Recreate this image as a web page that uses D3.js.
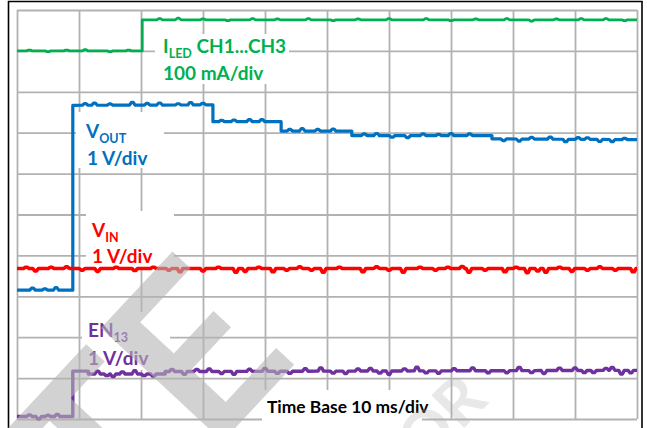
<!DOCTYPE html>
<html>
<head>
<meta charset="utf-8">
<script src="https://cdn.jsdelivr.net/npm/d3@7"></script>
<style>
  html, body { margin: 0; padding: 0; background: #fff; }
  svg { display: block; }
  text { font-family: Lato, "Open Sans", sans-serif; font-weight: 700; }
</style>
</head>
<body>
<svg id="scope" width="647" height="428"></svg>
<script>
// Time axis in ms (10 ms/div), vertical axis in screen divisions from the bottom.
const timeTicks = [0, 10, 20, 30, 40, 50, 60, 70, 80, 90, 100];
const divTicks = [0, 1, 2, 3, 4, 5, 6, 7, 8, 9, 10];

// Trace levels as [time ms, divisions]; repeated times are vertical edges.
const iledPoints = [[0, 9.00], [20.2, 9.00], [20.2, 9.76], [100, 9.76]];
const voutPoints = [[0, 3.15], [9.0, 3.15], [9.0, 7.67], [31.6, 7.68], [31.6, 7.27],
                    [42.6, 7.27], [42.6, 7.04], [54.0, 7.04], [54.0, 6.93],
                    [76.6, 6.93], [76.6, 6.85], [100, 6.83]];
const vinPoints = [[0, 3.68], [100, 3.68]];
const enPoints = [[0, 0.06], [9.0, 0.06], [9.0, 1.17], [11.5, 1.17], [11.5, 1.10],
                  [23.9, 1.10], [23.9, 1.16], [100, 1.19]];

// Visible ripple on each trace as [time ms, offset in divisions].
const iledGlitches = [[2, 0.02], [5, -0.02], [8, 0.02], [11, 0.03], [15, -0.02], [18, 0.02],
                      [23, 0.03], [26, 0.04], [30, 0.02], [34, -0.02], [38, 0.03], [42, 0.02],
                      [47, 0.03], [51, -0.02], [55, 0.02], [60, 0.03], [66, 0.03], [70, -0.02],
                      [74, 0.02], [79, 0.03], [83, -0.03], [87, 0.02], [91, 0.03], [95, 0.03], [98, -0.02]];
const voutGlitches = [[2.5, 0.05], [4.5, 0.03], [6.3, 0.06], [11, 0.04], [12.5, 0.05], [15, 0.03],
                      [18.6, 0.07], [21, 0.04], [23, 0.05], [26, 0.03], [28, 0.06], [30, 0.04],
                      [33, 0.03], [35, 0.04], [37.5, 0.05], [39.5, 0.05], [44, 0.04], [46, 0.06],
                      [48.5, 0.04], [51, 0.05], [56, 0.04], [58, 0.05], [60.5, -0.04], [63, -0.05],
                      [65.5, 0.04], [68, 0.03], [70, 0.05], [73, 0.04], [78.5, -0.04], [81, -0.05],
                      [83, 0.04], [86, 0.05], [88.5, -0.06], [90.5, 0.04], [92, 0.04], [94, -0.05],
                      [96, -0.05], [98, 0.03]];
const vinGlitches = [[1.5, 0.03], [3, -0.06], [5.5, 0.03], [8, 0.04], [10.5, -0.04], [13, -0.07],
                     [16, 0.03], [19, -0.05], [22, 0.03], [24.5, -0.04], [26.3, -0.08], [30, -0.06],
                     [32.5, 0.03], [35.3, -0.09], [36.8, -0.07], [39, 0.03], [41.3, -0.08],
                     [43.5, -0.04], [45.6, 0.04], [47.5, -0.04], [49.4, -0.09], [52, 0.03],
                     [55.8, -0.08], [58, 0.04], [60, -0.04], [62.3, -0.09], [65, 0.03], [67.5, -0.04],
                     [69.5, 0.03], [71.8, 0.05], [72.9, -0.09], [75.5, -0.04], [78.7, -0.08],
                     [80.5, 0.03], [82.3, -0.1], [84, -0.06], [85.3, -0.09], [87.5, 0.03],
                     [89.5, -0.07], [92, -0.04], [94, 0.04], [96.5, -0.04], [99.4, -0.08]];
const enGlitches = [[2, 0.04], [3.5, -0.06], [5, 0.03], [6.5, 0.05], [13, 0.07], [14.5, -0.04],
                    [15.5, -0.06], [17, 0.05], [19, 0.08], [20.5, -0.04], [22, -0.05], [25, 0.05],
                    [27, -0.07], [29, 0.05], [31, 0.06], [33, -0.05], [35, -0.07], [37.5, 0.05],
                    [40, 0.07], [42, -0.05], [44, -0.05], [46.5, 0.06], [49, 0.08], [51, -0.05],
                    [53, -0.06], [55, 0.05], [57, 0.06], [58.5, -0.05], [60, -0.08], [62.5, 0.05],
                    [64.5, 0.09], [66, -0.05], [68, -0.06], [70.5, 0.05], [73.5, 0.07], [76, -0.05],
                    [79, -0.05], [81, 0.08], [83, -0.05], [85, -0.07], [87.5, 0.06], [90, 0.06],
                    [91.5, -0.05], [93, -0.05], [95, 0.05], [96, 0.07], [97.5, -0.09], [99, -0.06]];

const svg = d3.select("#scope");
const W = 647, H = 428;

const x = d3.scaleLinear().domain([0, 100]).range([17, 637]);
const y = d3.scaleLinear().domain([0, 10]).range([419, 10]);

// Outer frame
const frame = svg.append("g").attr("stroke", "#000").attr("stroke-width", 1.6);
frame.append("line").attr("x1", 8).attr("x2", 642.5).attr("y1", 1.5).attr("y2", 1.5);
frame.append("line").attr("x1", 8.5).attr("x2", 8.5).attr("y1", 1).attr("y2", H);
frame.append("line").attr("x1", 642).attr("x2", 642).attr("y1", 1).attr("y2", H);

// Graticule drawn with the axis generators
const grid = svg.append("g").attr("class", "grid");
grid.append("g")
  .attr("transform", `translate(0,${y(0)})`)
  .call(d3.axisBottom(x).tickValues(timeTicks).tickSize(-(y(0) - y(10))).tickFormat(""))
  .call(g => g.select(".domain").remove());
grid.append("g")
  .attr("transform", `translate(${x(0)},0)`)
  .call(d3.axisLeft(y).tickValues(divTicks).tickSize(-(x(100) - x(0))).tickFormat(""))
  .call(g => g.select(".domain").remove());
grid.selectAll("line").attr("stroke", "#b2b2b2").attr("stroke-width", 1.8);

// White label panels that hide the graticule behind the annotations
const panels = [
  [155, 34, 134, 50],
  [76, 112, 88, 56],
  [86, 211, 88, 56],
  [82, 312, 88, 58],
  [262, 390, 160, 38]
];
svg.append("g").selectAll("rect").data(panels).join("rect")
  .attr("x", d => d[0]).attr("y", d => d[1]).attr("width", d => d[2]).attr("height", d => d[3])
  .attr("fill", "#fff");

// Level at time t along a stepped point list
function levelAt(pts, t) {
  for (let i = 0; i < pts.length - 1; i++) {
    const a = pts[i], b = pts[i + 1];
    if (t >= a[0] && t <= b[0] && b[0] > a[0]) {
      return a[1] + (b[1] - a[1]) * (t - a[0]) / (b[0] - a[0]);
    }
  }
  return pts[pts.length - 1][1];
}
// Insert each ripple as a short flat-topped bump on the underlying level
function withGlitches(pts, glitches) {
  const extra = [];
  glitches.forEach(([t, d]) => {
    const base = levelAt(pts, t);
    extra.push([t - 0.45, base], [t - 0.15, base + d], [t + 0.15, base + d], [t + 0.45, base]);
  });
  return pts.concat(extra).map((p, i) => [p[0], p[1], i])
    .sort((a, b) => a[0] - b[0] || a[2] - b[2]);
}

const line = d3.line().x(d => x(d[0])).y(d => y(d[1]));
const traces = [
  { pts: iledPoints, gl: iledGlitches, color: "#00b050", w: 2.8 },
  { pts: voutPoints, gl: voutGlitches, color: "#0070c0", w: 3.2 },
  { pts: vinPoints, gl: vinGlitches, color: "#ff0000", w: 3.6 },
  { pts: enPoints, gl: enGlitches, color: "#7030a0", w: 3.4 }
];
svg.append("g").selectAll("path").data(traces).join("path")
  .attr("d", d => line(withGlitches(d.pts, d.gl)))
  .attr("fill", "none")
  .attr("stroke", d => d.color)
  .attr("stroke-width", d => d.w)
  .attr("stroke-linejoin", "round");

// Channel annotations
function label(xp, yp, main, sub, rest, color, size) {
  const t = svg.append("text").attr("x", xp).attr("y", yp)
    .attr("fill", color).attr("font-size", size);
  t.append("tspan").text(main);
  if (sub) t.append("tspan").attr("font-size", size * 0.66).attr("dy", 5).text(sub);
  if (rest) t.append("tspan").attr("dy", sub ? -5 : 0).text(rest);
  return t;
}
label(163, 53, "I", "LED", " CH1...CH3", "#00b050", 19);
label(163, 80, "100 mA/div", null, null, "#00b050", 19);
label(86, 138, "V", "OUT", null, "#0070c0", 19);
label(87, 165, "1 V/div", null, null, "#0070c0", 19);
label(92, 237, "V", "IN", null, "#ff0000", 19);
label(92, 263, "1 V/div", null, null, "#ff0000", 19);
label(88, 337, "EN", "13", null, "#7030a0", 19);
label(88, 365, "1 V/div", null, null, "#7030a0", 19);
label(267, 413, "Time Base 10 ms/div", null, null, "#000", 17.4);

// Diagonal watermark lettering across the lower part of the screen
const wm = svg.append("g").attr("fill", "#b4b4b4")
  .style("font-family", "'DejaVu Sans', sans-serif").style("font-weight", 400);
wm.append("text").attr("font-size", 230).attr("fill-opacity", 0.6)
  .attr("transform", "translate(116,556) rotate(-47)").text("TE");
wm.append("text").attr("font-size", 64).attr("fill-opacity", 0.3)
  .attr("transform", "translate(424,468) rotate(-45)").text("OR");
</script>
</body>
</html>
